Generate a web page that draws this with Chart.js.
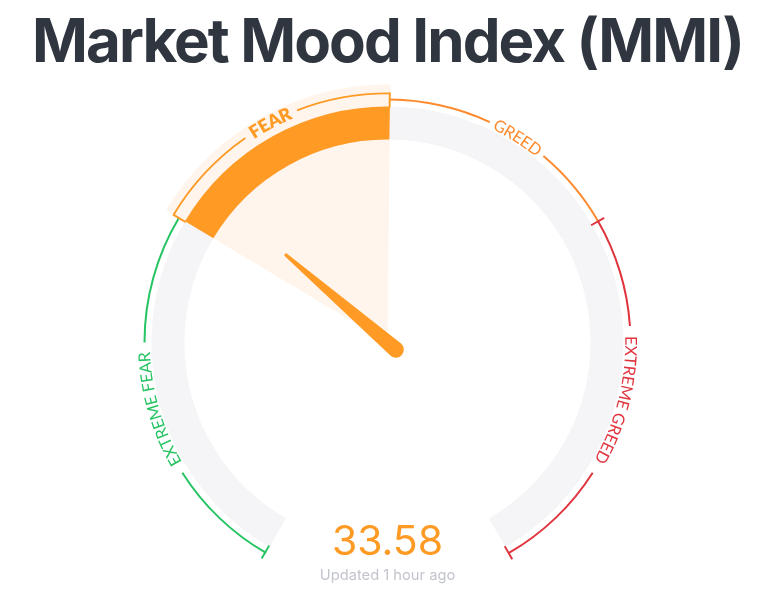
<!DOCTYPE html>
<html>
<head>
<meta charset="utf-8">
<style>
  html, body { margin: 0; padding: 0; background: #fff; }
  canvas { display: block; }
</style>
<script src="https://cdn.jsdelivr.net/npm/chart.js@4/dist/chart.umd.js"></script>
</head>
<body>
<canvas id="myChart" width="768" height="610"></canvas>
<script>
const title = 'Market Mood Index (MMI)';
const mmiValue = 33.58;
const updatedText = 'Updated 1 hour ago';

// everything sits on the 0-100 index, the last 20 is the empty gap at the bottom
const zoneLabels = ['EXTREME FEAR', 'FEAR', 'GREED', 'EXTREME GREED'];
const labelPositions = [14.6, 40.65, 60.8, 84.67];
const bandSegments = [30.3, 19.9, 19.8, 30, 20];
const wedgeSegments = [30.3, 19.9, 69.8];
const lineSegments = [9.2, 10.8, 10.3, 19.9, 8.1, 5, 6.7, 8.7, 12.1, 9.2, 20];
const fearOutline = [30.3, 8.1, 4.5, 7.3, 69.8];
const tickSegments = [0.15, 30.05, 0.15, 19.75, 0.15, 19.7, 0.15, 29.85, 0.15, 19.9];

const ORANGE = '#ff9a24', PALE = '#fff5ec', TRACK = '#f5f5f7';
const GREEN = '#27c464', GREED = '#ff8a2e', RED = '#e0343e', NONE = 'rgba(0,0,0,0)';

const RING_COUNT = 5;
// dataset radius and cutout so that ring number i lands between outer and inner
const ring = (i, outer, inner) => {
  const len = outer - inner;
  const radius = outer + len * i;
  return { radius, cutout: (1 - len * RING_COUNT / radius) * 100 + '%' };
};

const labelColors = [GREEN, ORANGE, GREED, RED];
const labelRadius = [243, 249, 243, 243];
const START_DEG = -150, DEG_PER_UNIT = 3;
const toRad = v => (START_DEG + v * DEG_PER_UNIT) * Math.PI / 180;

const gaugeText = {
  id: 'gaugeText',
  beforeDraw(chart) {
    // title is tighter than Inter's default spacing
    chart.ctx.letterSpacing = '-1.9px';
  },
  afterDatasetsDraw(chart) {
    const ctx = chart.ctx;
    ctx.letterSpacing = '0px';
    const arc = chart.getDatasetMeta(0).data[0];
    const cx = arc.x, cy = arc.y;

    // needle
    const a = toRad(mmiValue);
    const sx = Math.sin(a), sy = -Math.cos(a);
    const hx = cx - sx * 11, hy = cy - sy * 11;
    const tx = cx + sx * 134, ty = cy + sy * 134;
    const back = Math.atan2(sy, sx);
    ctx.save();
    ctx.fillStyle = ORANGE;
    ctx.beginPath();
    ctx.arc(tx, ty, 1.6, back - Math.PI / 2, back + Math.PI / 2);
    ctx.arc(hx, hy, 8, back + Math.PI / 2, back + Math.PI * 1.5);
    ctx.closePath();
    ctx.fill();

    // labels bent along the arc
    zoneLabels.forEach((label, i) => {
      const r = labelRadius[i];
      ctx.font = (i === 1 ? '800 18px' : '400 16.4px') + ' Lato';
      ctx.fillStyle = labelColors[i];
      ctx.textAlign = 'center';
      ctx.textBaseline = 'middle';
      const total = ctx.measureText(label).width;
      let pos = -total / 2;
      for (const ch of label) {
        const w = ctx.measureText(ch).width;
        const ang = toRad(labelPositions[i]) + (pos + w / 2) / r;
        ctx.save();
        ctx.translate(cx + r * Math.sin(ang), cy - r * Math.cos(ang));
        ctx.rotate(ang);
        ctx.fillText(ch, 0, 0);
        ctx.restore();
        pos += w;
      }
    });

    // value
    ctx.textAlign = 'center';
    ctx.textBaseline = 'alphabetic';
    ctx.fillStyle = ORANGE;
    ctx.font = '400 41px Inter';
    ctx.fillText(mmiValue.toFixed(2), cx, 555);
    ctx.fillStyle = '#c3c5cc';
    ctx.font = '400 14.7px Inter';
    ctx.fillText(updatedText, cx, 580);
    ctx.restore();
  }
};

const canvasRef = document.getElementById('myChart');
new Chart(canvasRef, {
  type: 'doughnut',
  data: {
    datasets: [
      {
        data: tickSegments,
        backgroundColor: [GREEN, NONE, ORANGE, NONE, ORANGE, NONE, RED, NONE, RED, NONE],
        ...ring(0, 250, 235)
      },
      {
        data: fearOutline,
        backgroundColor: [NONE, ORANGE, NONE, ORANGE, NONE],
        ...ring(1, 250, 248.2)
      },
      {
        data: lineSegments,
        backgroundColor: [GREEN, NONE, GREEN, NONE, GREED, NONE, GREED, RED, NONE, RED, NONE],
        ...ring(2, 244, 242)
      },
      {
        data: bandSegments,
        backgroundColor: [TRACK, ORANGE, TRACK, TRACK, NONE],
        ...ring(3, 236, 203)
      },
      {
        data: wedgeSegments,
        backgroundColor: [NONE, PALE, NONE],
        ...ring(4, 258, 0)
      }
    ]
  },
  options: {
    responsive: false,
    animation: false,
    rotation: START_DEG,
    circumference: 360,
    borderWidth: 0,
    layout: { padding: { left: 7, right: 0, top: 0, bottom: 5 } },
    plugins: {
      legend: { display: false },
      tooltip: { enabled: false },
      title: {
        display: true,
        text: title,
        color: '#2f3640',
        font: { family: 'Inter', size: 60, weight: '700', lineHeight: 1.2 },
        padding: { top: 8, bottom: 0 }
      }
    }
  },
  plugins: [gaugeText]
});
</script>
</body>
</html>
